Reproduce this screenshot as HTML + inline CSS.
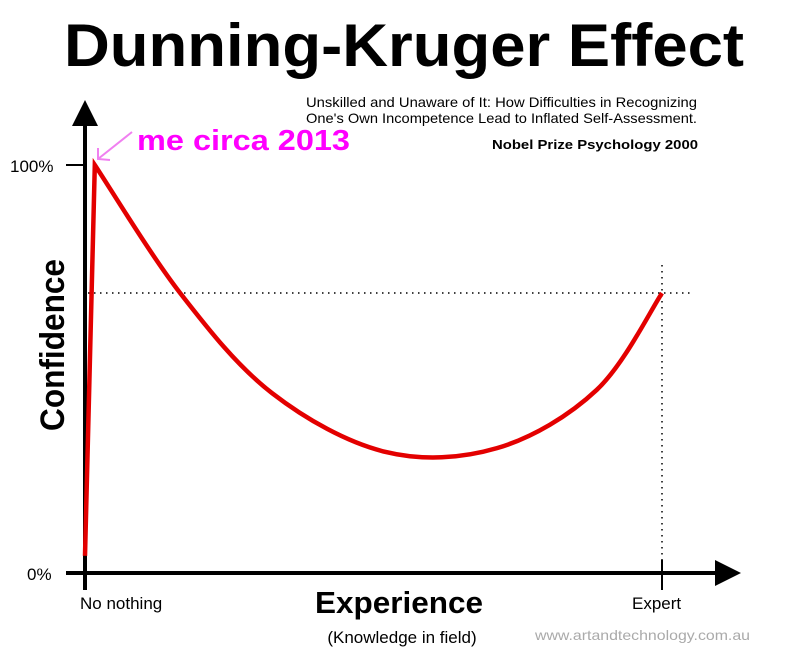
<!DOCTYPE html>
<html><head><meta charset="utf-8"><style>
html,body{margin:0;padding:0;background:#fff;}
svg{display:block;font-family:"Liberation Sans",Arial,sans-serif;}
</style></head><body>
<svg id="chart" width="800" height="670" viewBox="0 0 800 670">
  <text x="404" y="66" text-anchor="middle" font-size="60" font-weight="bold" textLength="680" lengthAdjust="spacingAndGlyphs">Dunning-Kruger Effect</text>
  <text x="306" y="107" font-size="14" textLength="391" lengthAdjust="spacingAndGlyphs">Unskilled and Unaware of It: How Difficulties in Recognizing</text>
  <text x="306" y="123" font-size="14" textLength="391" lengthAdjust="spacingAndGlyphs">One's Own Incompetence Lead to Inflated Self-Assessment.</text>
  <text x="492" y="149" font-size="13" font-weight="bold" textLength="206" lengthAdjust="spacingAndGlyphs">Nobel Prize Psychology  2000</text>
  <text x="137" y="150" font-size="29" font-weight="bold" fill="#f0f" textLength="213" lengthAdjust="spacingAndGlyphs">me circa 2013</text>
  <g stroke="#f080f0" stroke-width="2" fill="none">
    <path d="M132,132 L98,159"/>
    <path d="M98,148 L98,159 L110,160"/>
  </g>
  <g id="axes">
    <line x1="85" y1="590" x2="85" y2="122" stroke="#000" stroke-width="4"/>
    <polygon points="85,100 72,126 98,126" fill="#000"/>
    <line x1="66" y1="573" x2="718" y2="573" stroke="#000" stroke-width="4"/>
    <polygon points="741,573 715,560 715,586" fill="#000"/>
    <line x1="66" y1="165" x2="86" y2="165" stroke="#000" stroke-width="2"/>
    <line x1="662" y1="560" x2="662" y2="590" stroke="#000" stroke-width="2"/>
    <line x1="662" y1="265" x2="662" y2="560" stroke="#000" stroke-width="1.5" stroke-dasharray="1.5,4.5"/>
    <line x1="88" y1="293" x2="692" y2="293" stroke="#000" stroke-width="1.5" stroke-dasharray="1.5,4.5"/>
  </g>
  <text x="10" y="172" font-size="17">100%</text>
  <text x="27" y="580" font-size="17">0%</text>
  <text transform="translate(64,345) rotate(-90)" text-anchor="middle" font-size="34" font-weight="bold" textLength="172" lengthAdjust="spacingAndGlyphs">Confidence</text>
  <text x="80" y="609" font-size="17">No nothing</text>
  <text x="632" y="609" font-size="17">Expert</text>
  <text x="399" y="613" text-anchor="middle" font-size="31" font-weight="bold" textLength="168" lengthAdjust="spacingAndGlyphs">Experience</text>
  <text x="402" y="643" text-anchor="middle" font-size="17">(Knowledge in field)</text>
  <text x="535" y="640" font-size="14" fill="#aaa" textLength="215" lengthAdjust="spacingAndGlyphs">www.artandtechnology.com.au</text>
</svg>
<script>
const experience = [0, 1.7, 16.5, 32.4, 52, 71.4, 88.7, 100];
const confidence = [4.2, 100, 68.6, 44.1, 29.7, 30.6, 44.9, 68.6];
const yTicks = ["0%", "100%"];

const X0 = 85, X1 = 662, Y0 = 573, Y1 = 165;
function xScale(v){ return X0 + (X1 - X0) * v / 100; }
function yScale(v){ return Y0 - (Y0 - Y1) * v / 100; }

const pts = experience.map((e,i)=>[xScale(e), yScale(confidence[i])]);
let d = 'M' + pts[0][0] + ',' + pts[0][1] + ' L' + pts[1][0] + ',' + pts[1][1];
const rest = pts.slice(1);
for (let i = 0; i < rest.length - 1; i++) {
  const p0 = rest[i-1] || rest[i], p1 = rest[i], p2 = rest[i+1], p3 = rest[i+2] || rest[i+1];
  const c1 = [p1[0] + (p2[0]-p0[0])/6, p1[1] + (p2[1]-p0[1])/6];
  const c2 = [p2[0] - (p3[0]-p1[0])/6, p2[1] - (p3[1]-p1[1])/6];
  d += ' C' + c1[0] + ',' + c1[1] + ' ' + c2[0] + ',' + c2[1] + ' ' + p2[0] + ',' + p2[1];
}
const path = document.createElementNS('http://www.w3.org/2000/svg','path');
path.setAttribute('d', d);
path.setAttribute('fill', 'none');
path.setAttribute('stroke', '#e30000');
path.setAttribute('stroke-width', '4.5');
path.setAttribute('stroke-linejoin', 'miter');


document.getElementById('chart').appendChild(path);
</script>
</body></html>
